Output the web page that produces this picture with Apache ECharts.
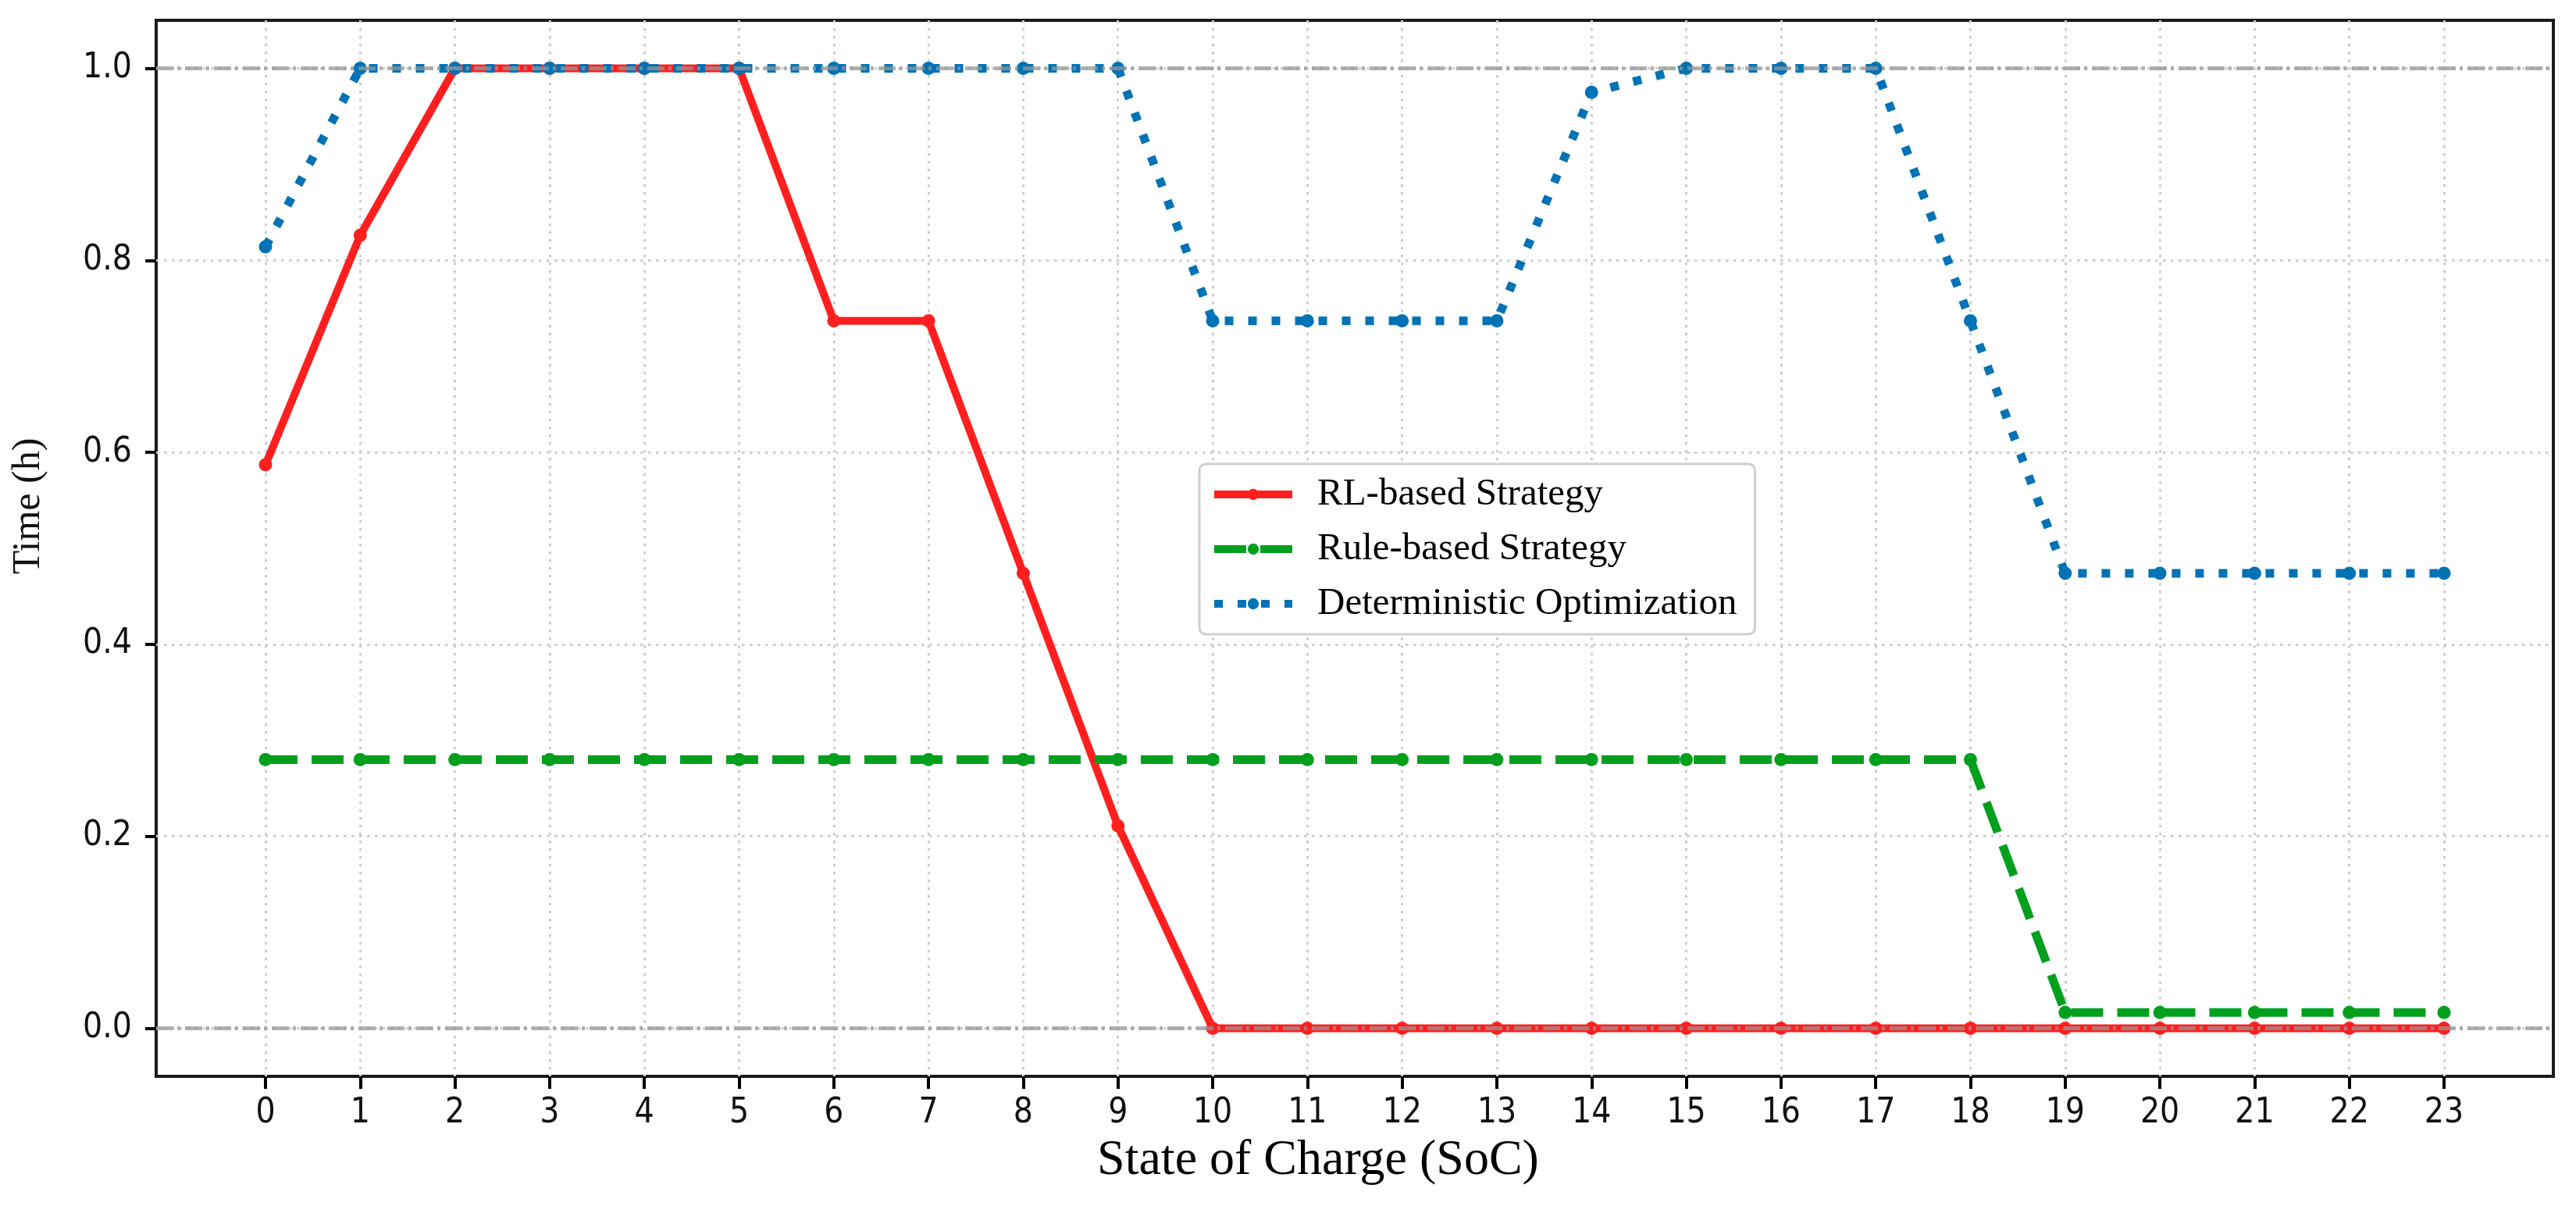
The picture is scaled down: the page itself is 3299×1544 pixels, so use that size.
<!DOCTYPE html>
<html><head><meta charset="utf-8">
<script src="https://cdn.jsdelivr.net/npm/echarts@6/dist/echarts.min.js"></script>
<style>html,body{margin:0;padding:0;background:#fff}#c{width:3299px;height:1544px}</style>
</head><body><div id="c"></div>
<script>
const soc = [0,1,2,3,4,5,6,7,8,9,10,11,12,13,14,15,16,17,18,19,20,21,22,23];
const rlValues   = [0.587,0.826,1,1,1,1,0.737,0.737,0.474,0.211,0,0,0,0,0,0,0,0,0,0,0,0,0,0];
const ruleValues = [0.28,0.28,0.28,0.28,0.28,0.28,0.28,0.28,0.28,0.28,0.28,0.28,0.28,0.28,0.28,0.28,0.28,0.28,0.28,0.0165,0.0165,0.0165,0.0165,0.0165];
const detValues  = [0.814,1,1,1,1,1,1,1,1,1,0.737,0.737,0.737,0.737,0.975,1,1,1,0.737,0.474,0.474,0.474,0.474,0.474];
const seriesNames = ['RL-based Strategy','Rule-based Strategy','Deterministic Optimization'];
const xTicks = soc;
const yTicks = [0,0.2,0.4,0.6,0.8,1.0];
const refLines = [0,1];

const toPairs = v => soc.map((x,i)=>[x,v[i]]);
const chart = echarts.init(document.getElementById('c'), null, {renderer:'canvas'});
const tickFont = 'DejaVu Sans Condensed';
const serif = 'Liberation Serif';
chart.setOption({
  animation:false,
  backgroundColor:'#fff',
  grid:{left:200, top:26, width:3070, height:1352, show:true, borderColor:'#1a1a1a', borderWidth:4, backgroundColor:'transparent'},
  xAxis:{
    type:'value', min:-1.154, max:24.154,
    name:'State of Charge (SoC)', nameLocation:'middle', nameGap:76,
    nameTextStyle:{fontFamily:serif, fontSize:64, color:'#000', padding:[0,94,0,0]},
    axisLine:{show:false, onZero:false},
    axisTick:{show:true, customValues:xTicks, length:16, lineStyle:{color:'#000', width:4}},
    axisLabel:{customValues:xTicks, margin:26, fontFamily:tickFont, fontSize:44, color:'#111'},
    splitLine:{show:true, lineStyle:{color:'#cfcfcf', width:3, type:[3.5,6.5]}}
  },
  yAxis:{
    type:'value', min:-0.05, max:1.05,
    name:'Time (h)', nameLocation:'middle', nameGap:138,
    nameTextStyle:{fontFamily:serif, fontSize:50, color:'#111', padding:[0,0,0,108]},
    axisLine:{show:false, onZero:false},
    axisTick:{show:true, customValues:yTicks, length:14, lineStyle:{color:'#000', width:4}},
    axisLabel:{customValues:yTicks, margin:31, fontFamily:tickFont, fontSize:44, color:'#111', formatter:v=>v.toFixed(1)},
    splitLine:{show:true, lineStyle:{color:'#cfcfcf', width:3, type:[3.5,6.5]}}
  },
  legend:{
    show:true, left:1536, top:594, orient:'vertical',
    data:seriesNames,
    backgroundColor:'#fff', borderColor:'#d0d0d0', borderWidth:3, borderRadius:8,
    padding:[14,23,14,14], itemWidth:100, itemHeight:18, itemGap:20,
    lineStyle:{width:10},
    textStyle:{fontFamily:serif, fontSize:49, color:'#000', lineHeight:50, padding:[0,0,0,27]}
  },
  series:[
    {name:seriesNames[0], type:'line', data:toPairs(rlValues), symbol:'circle', symbolSize:17, showSymbol:true,
     lineStyle:{color:'#ff1f1f', width:10}, itemStyle:{color:'#ff1f1f'}, z:2},
    {name:seriesNames[1], type:'line', data:toPairs(ruleValues), symbol:'circle', symbolSize:17,
     lineStyle:{color:'#00a01e', width:11, type:[41,18]}, itemStyle:{color:'#00a01e'}, z:3},
    {name:seriesNames[2], type:'line', data:toPairs(detValues), symbol:'circle', symbolSize:17,
     lineStyle:{color:'#0072b6', width:11, type:[11,19]}, itemStyle:{color:'#0072b6'}, z:4,
     markLine:{silent:true, symbol:'none', label:{show:false}, animation:false,
       lineStyle:{color:'rgba(150,150,150,0.75)', width:5, type:[22,5,4,6]},
       data:refLines.map(v=>({yAxis:v}))}}
  ]
});
</script></body></html>
